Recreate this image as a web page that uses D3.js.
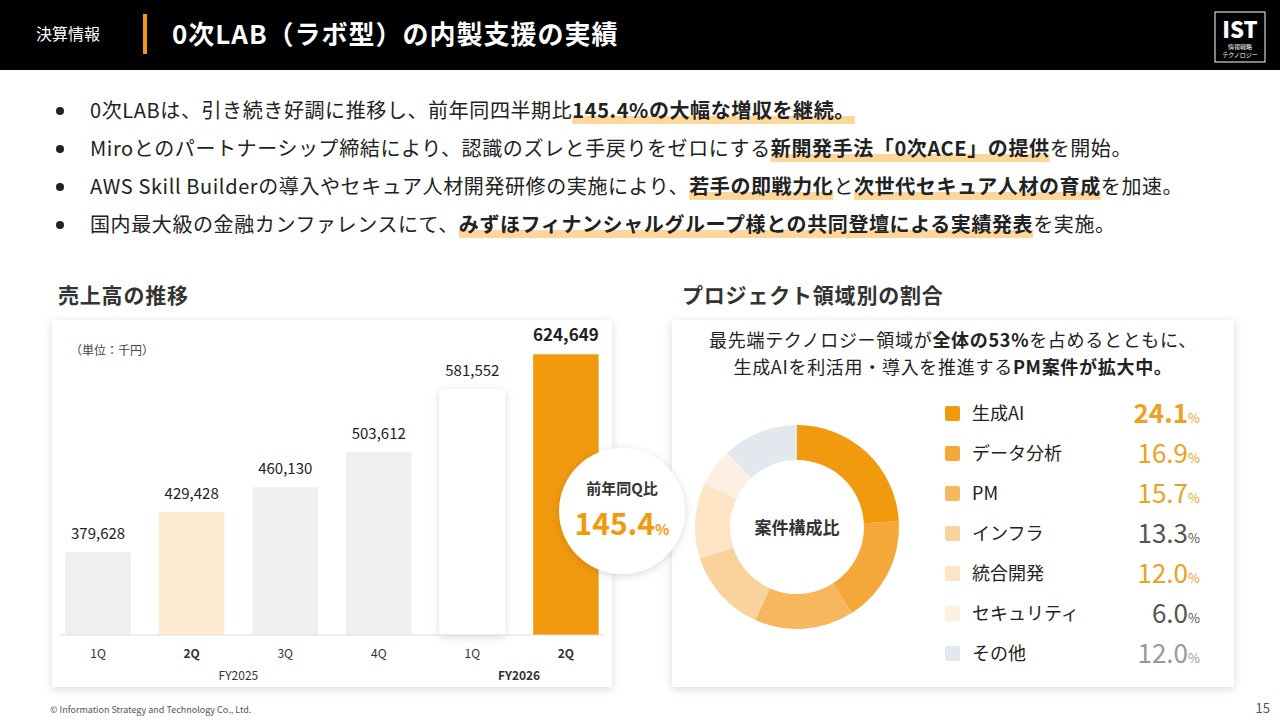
<!DOCTYPE html>
<html><head><meta charset="utf-8">
<script src="https://cdn.jsdelivr.net/npm/d3@7"></script>
<style>
body{margin:0;background:#fff;font-family:"Noto Sans CJK JP","Noto Sans",sans-serif;}
</style></head><body>
<svg id="c" width="1280" height="720"></svg>
<script>
const quarters = ["1Q","2Q","3Q","4Q","1Q","2Q"];
const sales = [379628, 429428, 460130, 503612, 581552, 624649];
const barColors = ["#efefef","#fdebd3","#efefef","#efefef","#ffffff","#f29a0e"];
const fyLabels = ["FY2025","FY2026"];
const domains = ["生成AI","データ分析","PM","インフラ","統合開発","セキュリティ","その他"];
const shares = [24.1, 16.9, 15.7, 13.3, 12.0, 6.0, 12.0];
const sliceColors = ["#f29a0e","#f5a73a","#f7b75e","#fad29b","#fde4c5","#fdf0e2","#e3e8ef"];
const valueColors = ["#f0a020","#f0a020","#f0a020","#555","#f0a020","#555","#999"];
const bullets = [
  [["0次LABは、引き続き好調に推移し、前年同四半期比",0],["145.4%の大幅な増収を継続。",1]],
  [["Miroとのパートナーシップ締結により、認識のズレと手戻りをゼロにする",0],["新開発手法「0次ACE」の提供",1],["を開始。",0]],
  [["AWS Skill Builderの導入やセキュア人材開発研修の実施により、",0],["若手の即戦力化",1],["と",0],["次世代セキュア人材の育成",1],["を加速。",0]],
  [["国内最大級の金融カンファレンスにて、",0],["みずほフィナンシャルグループ様との共同登壇による実績発表",1],["を実施。",0]]
];

const svg = d3.select("#c");
const defs = svg.append("defs");
const f = defs.append("filter").attr("id","sh").attr("x","-20%").attr("y","-20%").attr("width","140%").attr("height","140%");
f.append("feDropShadow").attr("dx",0).attr("dy",2).attr("stdDeviation",4).attr("flood-color","#000").attr("flood-opacity",0.15);

// header
svg.append("rect").attr("width",1280).attr("height",70).attr("fill","#000");
svg.append("text").attr("x",36).attr("y",40).attr("fill","#fff").attr("font-size",16).text("決算情報");
svg.append("rect").attr("x",143).attr("y",14).attr("width",4).attr("height",40).attr("fill","#f29a0e");
svg.append("text").attr("x",172).attr("y",44).attr("fill","#fff").attr("font-size",26).attr("font-weight",700).attr("letter-spacing",1).text("0次LAB（ラボ型）の内製支援の実績");
svg.append("rect").attr("x",1215).attr("y",12).attr("width",50).attr("height",50).attr("fill","none").attr("stroke","#fff");
svg.append("text").attr("x",1240).attr("y",38).attr("text-anchor","middle").attr("fill","#fff").attr("font-size",22).attr("font-weight",900).text("IST");
svg.append("text").attr("x",1240).attr("y",49).attr("text-anchor","middle").attr("fill","#fff").attr("font-size",6).text("情報戦略");
svg.append("text").attr("x",1240).attr("y",57).attr("text-anchor","middle").attr("fill","#fff").attr("font-size",6).text("テクノロジー");

// bullets
bullets.forEach((b,i)=>{
  const y = 118 + i*38;
  svg.append("circle").attr("cx",60).attr("cy",y-7).attr("r",4).attr("fill","#222");
  const t = svg.append("text").attr("x",90).attr("y",y).attr("font-size",20).attr("letter-spacing",0.6).attr("fill","#222");
  b.forEach(([s,h])=>t.append("tspan").attr("font-weight",h?700:400).text(s));
  let x = 90;
  t.selectAll("tspan").each(function(d,j){
    const w = this.getComputedTextLength();
    if (b[j][1]) svg.insert("rect","text").attr("x",x).attr("y",y-2).attr("width",w).attr("height",8).attr("fill","#fcd69a");
    x += w;
  });
});

// section titles
svg.append("text").attr("x",58).attr("y",303).attr("font-size",21).attr("font-weight",700).attr("fill","#333").attr("letter-spacing",0.8).text("売上高の推移");
svg.append("text").attr("x",682).attr("y",303).attr("font-size",21).attr("font-weight",700).attr("fill","#333").attr("letter-spacing",0.8).text("プロジェクト領域別の割合");

// bar panel
svg.append("rect").attr("x",52).attr("y",320).attr("width",560).attr("height",367).attr("fill","#fff").attr("filter","url(#sh)");
svg.append("text").attr("x",70).attr("y",355).attr("font-size",12).attr("fill","#444").text("（単位：千円）");
const x = d3.scaleBand().domain(d3.range(quarters.length)).range([56,608]).paddingInner(0.3).paddingOuter(0.1);
const y = d3.scaleLinear().domain([277000, 625000]).range([635, 354]);
svg.selectAll(".bar").data(sales).join("rect")
  .attr("x",(d,i)=>x(i)).attr("width",x.bandwidth())
  .attr("y",d=>y(d)).attr("height",d=>635-y(d))
  .attr("fill",(d,i)=>barColors[i])
  .attr("filter",(d,i)=>i===4?"url(#sh)":null);
svg.selectAll(".val").data(sales).join("text")
  .attr("x",(d,i)=>x(i)+x.bandwidth()/2).attr("y",d=>y(d)-13)
  .attr("text-anchor","middle").attr("font-size",(d,i)=>i===5?17:15)
  .attr("font-weight",(d,i)=>i===5?700:400).attr("fill","#222")
  .text(d3.format(","));
svg.append("line").attr("x1",60).attr("x2",604).attr("y1",635).attr("y2",635).attr("stroke","#ddd");
svg.selectAll(".q").data(quarters).join("text")
  .attr("x",(d,i)=>x(i)+x.bandwidth()/2).attr("y",658).attr("text-anchor","middle")
  .attr("font-size",12).attr("font-weight",(d,i)=>i%4===1||i===5?700:400).attr("fill","#333").text(d=>d);
svg.append("text").attr("x",(x(0)+x(3)+x.bandwidth())/2).attr("y",680).attr("text-anchor","middle").attr("font-size",12).attr("fill","#333").text(fyLabels[0]);
svg.append("text").attr("x",(x(4)+x(5)+x.bandwidth())/2).attr("y",680).attr("text-anchor","middle").attr("font-size",12).attr("font-weight",700).attr("fill","#333").text(fyLabels[1]);

// donut panel
svg.append("rect").attr("x",672).attr("y",320).attr("width",562).attr("height",367).attr("fill","#fff").attr("filter","url(#sh)");
svg.append("text").attr("x",953).attr("y",347).attr("text-anchor","middle").attr("font-size",18).attr("letter-spacing",0.7).attr("fill","#222")
  .call(t=>{t.append("tspan").text("最先端テクノロジー領域が");t.append("tspan").attr("font-weight",700).text("全体の53%");t.append("tspan").text("を占めるとともに、");});
svg.append("text").attr("x",953).attr("y",374).attr("text-anchor","middle").attr("font-size",18).attr("letter-spacing",0.7).attr("fill","#222")
  .call(t=>{t.append("tspan").text("生成AIを利活用・導入を推進する");t.append("tspan").attr("font-weight",700).text("PM案件が拡大中。");});
const pie = d3.pie().sort(null)(shares);
const arc = d3.arc().innerRadius(67).outerRadius(102);
const g = svg.append("g").attr("transform","translate(797,527)");
g.selectAll("path").data(pie).join("path").attr("d",arc).attr("fill",(d,i)=>sliceColors[i]);
g.append("text").attr("y",7).attr("text-anchor","middle").attr("font-size",17).attr("font-weight",700).attr("fill","#333").text("案件構成比");

const lg = svg.selectAll(".lg").data(domains).join("g").attr("transform",(d,i)=>`translate(945,${413+i*40})`);
lg.append("rect").attr("y",-7).attr("width",15).attr("height",15).attr("rx",2).attr("fill",(d,i)=>sliceColors[i]);
lg.append("text").attr("x",27).attr("y",7).attr("font-size",18).attr("fill","#222").text(d=>d);
lg.append("text").attr("x",1200).attr("transform","translate(-945,0)").attr("y",10).attr("text-anchor","end")
  .attr("fill",(d,i)=>valueColors[i])
  .call(t=>{
    t.append("tspan").attr("font-size",26).attr("font-weight",(d,i)=>i===0?700:400).text((d,i)=>shares[i].toFixed(1));
    t.append("tspan").attr("font-size",13).text("%");
  });

// badge
svg.append("circle").attr("cx",622).attr("cy",511).attr("r",63).attr("fill","#fff").attr("filter","url(#sh)");
svg.append("text").attr("x",622).attr("y",494).attr("text-anchor","middle").attr("font-size",15).attr("font-weight",700).attr("fill","#333").text("前年同Q比");
svg.append("text").attr("x",622).attr("y",535).attr("text-anchor","middle").attr("fill","#f29a0e").attr("font-weight",700)
  .call(t=>{t.append("tspan").attr("font-size",30).text("145.4");t.append("tspan").attr("font-size",15).text("%");});

// footer
svg.append("text").attr("x",50).attr("y",713).attr("font-size",9).attr("fill","#555").text("© Information Strategy and Technology Co., Ltd.");
svg.append("text").attr("x",1270).attr("y",713).attr("text-anchor","end").attr("font-size",13).attr("fill","#555").text("15");
</script></body></html>
